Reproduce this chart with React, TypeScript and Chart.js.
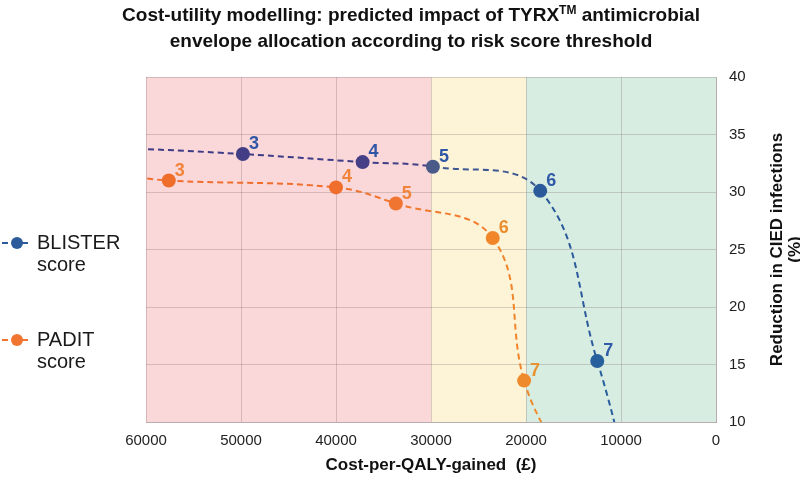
import React, { useEffect, useRef } from 'react';
import { Chart, registerables } from 'chart.js';

Chart.register(...registerables);

// ---- data ----
const titleLine1Before = 'Cost-utility modelling: predicted impact of TYRX';
const titleSup = 'TM';
const titleLine1After = ' antimicrobial';
const titleLine2 = 'envelope allocation according to risk score threshold';
const xAxisTitle = 'Cost-per-QALY-gained  (£)';
const yAxisTitle = ['Reduction in CIED infections', '(%)'];

const seriesNames = ['BLISTER', 'PADIT'];

const blisterScores = ['3', '4', '5', '6', '7'];
const blisterCost = [49800, 37200, 29800, 18500, 12500];
const blisterReduction = [33.3, 32.6, 32.2, 30.1, 15.3];
// curve continuation outside the visible window (clipped)
const blisterLeadCost = [64000];
const blisterLeadReduction = [33.9];
const blisterTailCost = [9300];
const blisterTailReduction = [5.5];

const paditScores = ['3', '4', '5', '6', '7'];
const paditCost = [57600, 40000, 33700, 23500, 20200];
const paditReduction = [31.0, 30.4, 29.0, 26.0, 13.6];
const paditLeadCost = [63000];
const paditLeadReduction = [31.5];
const paditTailCost = [17000];
const paditTailReduction = [7.6];

// threshold bands (£ per QALY)
const bandFrom = [30000, 20000, 0];
const bandTo = [60000, 30000, 20000];
const bandColors = ['#fad7d9', '#fdf4d8', '#d8ede1'];

const blisterPointColors = ['#433d85', '#453f88', '#4a5b89', '#2c5b9b', '#285f9d'];
const blisterLabelColors = ['#2f57a5', '#2f57a5', '#2f57a5', '#2f5ba8', '#2f5ba8'];
const blisterSegColors = ['#3e3c86', '#3e3c86', '#403f88', '#3d5791', '#2c5b9b', '#285f9d'];

const paditPointColors = ['#f06e2c', '#f06e2c', '#f07530', '#f0852a', '#ee8a2c'];
const paditLabelColors = ['#f0843a', '#f0843a', '#f0843a', '#ea8e30', '#e6922e'];
const paditSegColors = ['#f06e2c', '#f06e2c', '#f07530', '#f07b2e', '#f0852a', '#ee8a2c'];

function buildPoints(leadX: number[], leadY: number[], xs: number[], ys: number[], tailX: number[], tailY: number[]) {
  const pts: { x: number; y: number }[] = [];
  leadX.forEach((x, i) => pts.push({ x, y: leadY[i] }));
  xs.forEach((x, i) => pts.push({ x, y: ys[i] }));
  tailX.forEach((x, i) => pts.push({ x, y: tailY[i] }));
  return pts;
}

const FONT = '"Liberation Sans", Arial, Helvetica, sans-serif';

export default function App() {
  const ref = useRef<HTMLCanvasElement | null>(null);

  useEffect(() => {
    document.body.style.margin = '0';
    const canvas = ref.current;
    if (!canvas) return;

    const blisterData = buildPoints(blisterLeadCost, blisterLeadReduction, blisterCost, blisterReduction, blisterTailCost, blisterTailReduction);
    const paditData = buildPoints(paditLeadCost, paditLeadReduction, paditCost, paditReduction, paditTailCost, paditTailReduction);

    const radii = (n: number) => {
      const r: number[] = [];
      for (let i = 0; i < n; i++) r.push(7);
      return [0, ...r, 0];
    };
    const pad = (arr: string[]) => ['rgba(0,0,0,0)', ...arr, 'rgba(0,0,0,0)'];

    const bandsPlugin = {
      id: 'bands',
      beforeDraw(chart: any) {
        const { ctx, chartArea, scales } = chart;
        ctx.save();
        ctx.fillStyle = '#ffffff';
        ctx.fillRect(0, 0, chart.width, chart.height);
        const x = scales.x;
        for (let i = 0; i < bandFrom.length; i++) {
          const a = x.getPixelForValue(bandFrom[i]);
          const b = x.getPixelForValue(bandTo[i]);
          ctx.fillStyle = bandColors[i];
          ctx.fillRect(Math.min(a, b), chartArea.top, Math.abs(b - a), chartArea.bottom - chartArea.top);
        }
        ctx.restore();
      },
    };

    const labelsPlugin = {
      id: 'pointLabels',
      afterDatasetsDraw(chart: any) {
        const { ctx } = chart;
        const sets = [
          { scores: blisterScores, colors: blisterLabelColors },
          { scores: paditScores, colors: paditLabelColors },
        ];
        ctx.save();
        ctx.font = `bold 18px ${FONT}`;
        ctx.textAlign = 'left';
        ctx.textBaseline = 'alphabetic';
        sets.forEach((s, di) => {
          const meta = chart.getDatasetMeta(di);
          s.scores.forEach((t, i) => {
            const el = meta.data[i + 1];
            if (!el) return;
            ctx.fillStyle = s.colors[i];
            ctx.fillText(t, el.x + 6, el.y - 5);
          });
        });
        ctx.restore();
      },
    };

    const decorPlugin = {
      id: 'decor',
      afterDraw(chart: any) {
        const { ctx, chartArea } = chart;
        ctx.save();
        // title
        ctx.fillStyle = '#111111';
        ctx.textBaseline = 'middle';
        const big = `bold 19px ${FONT}`;
        const small = `bold 12px ${FONT}`;
        ctx.font = big;
        const w1 = ctx.measureText(titleLine1Before).width;
        const w3 = ctx.measureText(titleLine1After).width;
        ctx.font = small;
        const w2 = ctx.measureText(titleSup).width;
        const cx = 411;
        let x0 = cx - (w1 + w2 + w3) / 2;
        ctx.textAlign = 'left';
        ctx.font = big;
        ctx.fillText(titleLine1Before, x0, 16);
        ctx.font = small;
        ctx.fillText(titleSup, x0 + w1, 11);
        ctx.font = big;
        ctx.fillText(titleLine1After, x0 + w1 + w2, 16);
        ctx.textAlign = 'center';
        ctx.fillText(titleLine2, cx, 42);

        // right axis title (reads bottom to top)
        const cy = (chartArea.top + chartArea.bottom) / 2;
        ctx.font = `bold 17px ${FONT}`;
        ctx.fillStyle = '#111111';
        const lineX = [777, 795];
        yAxisTitle.forEach((t, i) => {
          ctx.save();
          ctx.translate(lineX[i], cy);
          ctx.rotate(-Math.PI / 2);
          ctx.textAlign = 'center';
          ctx.textBaseline = 'middle';
          ctx.fillText(t, 0, 0);
          ctx.restore();
        });

        // legend
        const legendY = [243, 340];
        const legendPointColors = [blisterPointColors[3], paditPointColors[2]];
        const legendLineColors = [blisterSegColors[4], paditSegColors[2]];
        chart.data.datasets.forEach((ds: any, i: number) => {
          const y = legendY[i];
          ctx.strokeStyle = legendLineColors[i];
          ctx.lineWidth = 2;
          ctx.setLineDash([6, 4]);
          ctx.beginPath();
          ctx.moveTo(2, y);
          ctx.lineTo(32, y);
          ctx.stroke();
          ctx.setLineDash([]);
          ctx.fillStyle = legendPointColors[i];
          ctx.beginPath();
          ctx.arc(17, y, 6, 0, Math.PI * 2);
          ctx.fill();
          ctx.fillStyle = '#1a1a1a';
          ctx.font = `20px ${FONT}`;
          ctx.textAlign = 'left';
          ctx.textBaseline = 'middle';
          ctx.fillText(ds.label, 37, y);
          ctx.fillText('score', 37, y + 22);
        });
        ctx.restore();
      },
    };

    const chart = new Chart(canvas, {
      type: 'line',
      data: {
        datasets: [
          {
            label: seriesNames[0],
            data: blisterData,
            borderColor: blisterSegColors[0],
            borderWidth: 2,
            borderDash: [6, 4],
            tension: 0.4,
            fill: false,
            pointRadius: radii(blisterCost.length),
            pointHoverRadius: radii(blisterCost.length),
            pointBackgroundColor: pad(blisterPointColors),
            pointBorderColor: pad(blisterPointColors),
            pointBorderWidth: 0,
            segment: {
              borderColor: (c: any) => blisterSegColors[c.p0DataIndex],
            },
          },
          {
            label: seriesNames[1],
            data: paditData,
            borderColor: paditSegColors[0],
            borderWidth: 2,
            borderDash: [6, 4],
            tension: 0.4,
            fill: false,
            pointRadius: radii(paditCost.length),
            pointHoverRadius: radii(paditCost.length),
            pointBackgroundColor: pad(paditPointColors),
            pointBorderColor: pad(paditPointColors),
            pointBorderWidth: 0,
            segment: {
              borderColor: (c: any) => paditSegColors[c.p0DataIndex],
            },
          },
        ],
      },
      options: {
        responsive: false,
        animation: false,
        events: [],
        layout: { padding: { left: 146, top: 77, right: 0, bottom: 0 } },
        plugins: {
          legend: { display: false },
          title: { display: false },
          tooltip: { enabled: false },
        },
        scales: {
          x: {
            type: 'linear',
            reverse: true,
            min: 0,
            max: 60000,
            ticks: {
              stepSize: 10000,
              padding: 10,
              color: '#222222',
              font: { family: FONT, size: 15 },
              callback: (v: any) => String(v),
              maxRotation: 0,
            },
            grid: { color: 'rgba(120,100,100,0.28)', lineWidth: 1, drawTicks: false },
            border: { color: 'rgba(120,100,100,0.35)' },
            title: {
              display: true,
              text: xAxisTitle,
              color: '#111111',
              font: { family: FONT, size: 17, weight: 'bold' },
              padding: { top: 0, bottom: 4 },
            },
            afterFit: (s: any) => {
              s.height = 58;
            },
          },
          y: {
            type: 'linear',
            position: 'right',
            min: 10,
            max: 40,
            ticks: {
              stepSize: 5,
              padding: 13,
              color: '#222222',
              font: { family: FONT, size: 15 },
            },
            grid: { color: 'rgba(120,100,100,0.28)', lineWidth: 1, drawTicks: false },
            border: { color: 'rgba(120,100,100,0.35)' },
            afterFit: (s: any) => {
              s.width = 84;
            },
          },
        },
      },
      plugins: [bandsPlugin, labelsPlugin, decorPlugin],
    } as any);

    return () => chart.destroy();
  }, []);

  return (
    <div style={{ width: 800, height: 480 }}>
      <canvas ref={ref} width={800} height={480} style={{ display: 'block', width: 800, height: 480 }} />
    </div>
  );
}
